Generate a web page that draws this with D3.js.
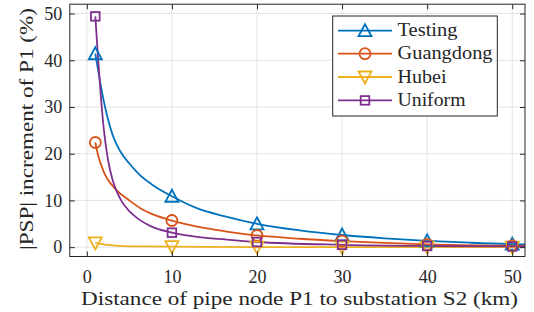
<!DOCTYPE html>
<html>
<head>
<meta charset="utf-8">
<script src="https://cdn.jsdelivr.net/npm/d3@7"></script>
<style>
  body { margin: 0; background: #fff; }
  svg text { font-family: "Liberation Serif", "DejaVu Serif", serif !important; }
</style>
</head>
<body>
<div id="chart"></div>
<script>
// Marker positions (km) and values
var markerX = [1, 10, 20, 30, 40, 50];
var testingMarks   = [41.4, 10.9, 5.0, 2.6, 1.35, 0.65];
var guangdongMarks = [22.4, 5.7, 2.5, 1.3, 0.6, 0.3];
var hubeiMarks     = [0.9, 0.1, 0.0, 0.0, 0.0, 0.0];
var uniformMarks   = [49.4, 3.1, 1.1, 0.5, 0.25, 0.15];

// Curve samples
var testingCurveX = [1, 1.5, 2, 2.53, 3, 3.5, 4, 5, 6.24, 8, 10, 13, 16.25, 20, 25, 30, 35, 40, 45, 50, 51.5];
var testingCurveY = [41.4, 36.0, 31.2, 27.1, 24.2, 22.0, 20.3, 17.9, 15.4, 13.0, 10.9, 8.3, 6.6, 5.0, 3.6, 2.6, 1.9, 1.35, 0.95, 0.65, 0.6];
var guangdongCurveX = [1, 1.28, 2, 3.43, 5, 6.24, 8, 10, 13, 16.25, 20, 25, 30, 35, 40, 50, 51.5];
var guangdongCurveY = [22.4, 20.0, 16.1, 12.3, 10.0, 8.4, 6.85, 5.7, 4.4, 3.4, 2.5, 1.8, 1.3, 0.9, 0.6, 0.3, 0.27];
var hubeiCurveX = [1, 1.55, 3, 6.2, 10, 20, 30, 40, 50, 51.5];
var hubeiCurveY = [0.9, 0.7, 0.4, 0.15, 0.1, 0.0, 0.0, 0.0, 0.0, 0.0];
var uniformCurveX = [1, 1.3, 1.6, 1.9, 2.2, 2.5, 3, 3.43, 4.1, 5, 6, 7.5, 10, 13, 16.25, 20, 30, 40, 50, 51.5];
var uniformCurveY = [49.4, 41.0, 33.5, 27.0, 22.2, 18.6, 14.6, 12.3, 9.8, 7.7, 6.1, 4.5, 3.1, 2.2, 1.65, 1.1, 0.5, 0.25, 0.15, 0.14];

var seriesNames = ["Testing", "Guangdong", "Hubei", "Uniform"];
var xTicks = [0, 10, 20, 30, 40, 50];
var yTicks = [0, 10, 20, 30, 40, 50];

var colors = ["#0072BD", "#D95319", "#EDB120", "#7E2F8E"];
var symbols = ["triUp", "circle", "triDown", "square"];
var legendTextW = [60, 95, 49, 68];

var series = [
  { name: seriesNames[0], cx: testingCurveX, cy: testingCurveY, m: testingMarks },
  { name: seriesNames[1], cx: guangdongCurveX, cy: guangdongCurveY, m: guangdongMarks },
  { name: seriesNames[2], cx: hubeiCurveX, cy: hubeiCurveY, m: hubeiMarks },
  { name: seriesNames[3], cx: uniformCurveX, cy: uniformCurveY, m: uniformMarks }
];

var W = 534, H = 312;
var svg = d3.select("#chart").append("svg")
  .attr("width", W).attr("height", H);

var x = d3.scaleLinear().domain([-2, 51.5]).range([69.8, 525]);
var y = d3.scaleLinear().domain([-2, 52]).range([256.5, 4.2]);

var pLeft = x.range()[0], pRight = x.range()[1], pTop = y.range()[1], pBottom = y.range()[0];

// grid
svg.append("g").selectAll("line").data(xTicks).enter().append("line")
  .attr("x1", function(d) { return x(d); }).attr("x2", function(d) { return x(d); })
  .attr("y1", pTop).attr("y2", pBottom)
  .attr("stroke", "#e3e3e3").attr("stroke-width", 1);
svg.append("g").selectAll("line").data(yTicks).enter().append("line")
  .attr("y1", function(d) { return y(d); }).attr("y2", function(d) { return y(d); })
  .attr("x1", pLeft).attr("x2", pRight)
  .attr("stroke", "#e3e3e3").attr("stroke-width", 1);

// lines
svg.append("clipPath").attr("id", "plotclip").append("rect")
  .attr("x", pLeft).attr("y", pTop).attr("width", pRight - pLeft).attr("height", pBottom - pTop);

var line = d3.line()
  .x(function(d) { return x(d[0]); })
  .y(function(d) { return y(d[1]); })
  .curve(d3.curveMonotoneX);

function marker(g, type, color) {
  if (type === "circle") {
    g.append("circle").attr("r", 5.5);
  } else if (type === "square") {
    g.append("rect").attr("x", -4.3).attr("y", -4.3).attr("width", 8.6).attr("height", 8.6);
  } else if (type === "triUp") {
    g.append("path").attr("d", "M0,-6.5L6.5,5.5L-6.5,5.5Z");
  } else {
    g.append("path").attr("d", "M0,6.5L6.5,-5.5L-6.5,-5.5Z");
  }
  g.selectAll("*").attr("fill", "none").attr("stroke", color).attr("stroke-width", 1.8);
}

series.forEach(function(s, i) {
  var pts = s.cx.map(function(v, k) { return [v, s.cy[k]]; });
  svg.append("path")
    .datum(pts)
    .attr("clip-path", "url(#plotclip)")
    .attr("d", line)
    .attr("fill", "none")
    .attr("stroke", colors[i])
    .attr("stroke-width", 1.8);
});

series.forEach(function(s, i) {
  markerX.forEach(function(mx, k) {
    var g = svg.append("g").attr("transform", "translate(" + x(mx) + "," + y(s.m[k]) + ")");
    marker(g, symbols[i], colors[i]);
  });
});

// axes (ticks inward, box on)
var tickLen = 5;
svg.append("g").attr("transform", "translate(0," + pBottom + ")")
  .call(d3.axisBottom(x).tickValues(xTicks).tickSizeInner(-tickLen).tickSizeOuter(0).tickPadding(14))
  .call(function(g) {
    g.select(".domain").remove();
    g.attr("font-size", 18);
    g.selectAll("text").attr("fill", "#262626");
  });
svg.append("g").attr("transform", "translate(0," + pTop + ")")
  .call(d3.axisTop(x).tickValues(xTicks).tickSizeInner(-tickLen).tickSizeOuter(0).tickFormat(""))
  .call(function(g) { g.select(".domain").remove(); });
svg.append("g").attr("transform", "translate(" + pLeft + ",0)")
  .call(d3.axisLeft(y).tickValues(yTicks).tickSizeInner(-tickLen).tickSizeOuter(0).tickPadding(7.5))
  .call(function(g) {
    g.select(".domain").remove();
    g.attr("font-size", 18);
    g.selectAll("text").attr("fill", "#262626");
  });
svg.append("g").attr("transform", "translate(" + pRight + ",0)")
  .call(d3.axisRight(y).tickValues(yTicks).tickSizeInner(-tickLen).tickSizeOuter(0).tickFormat(""))
  .call(function(g) { g.select(".domain").remove(); });
svg.selectAll(".tick line").attr("stroke", "#262626");

svg.append("rect")
  .attr("x", pLeft).attr("y", pTop)
  .attr("width", pRight - pLeft).attr("height", pBottom - pTop)
  .attr("fill", "none").attr("stroke", "#262626").attr("stroke-width", 1);

// axis labels
svg.append("text")
  .attr("x", (81 + 518) / 2).attr("y", 305)
  .attr("text-anchor", "middle")
  .attr("font-size", 19).attr("fill", "#262626")
  .attr("textLength", 437).attr("lengthAdjust", "spacingAndGlyphs")
  .text("Distance of pipe node P1 to substation S2 (km)");

svg.append("text")
  .attr("transform", "translate(33,129) rotate(-90)")
  .attr("text-anchor", "middle")
  .attr("font-size", 19).attr("fill", "#262626")
  .attr("textLength", 242).attr("lengthAdjust", "spacingAndGlyphs")
  .text("|PSP| increment of P1 (%)");

// legend
var lg = svg.append("g");
lg.append("rect")
  .attr("x", 332.7).attr("y", 16).attr("width", 164.6).attr("height", 100)
  .attr("fill", "#fff").attr("stroke", "#262626").attr("stroke-width", 1);
var rowY = [30.7, 53.7, 77, 100.4];
series.forEach(function(s, i) {
  var row = lg.append("g").attr("transform", "translate(0," + rowY[i] + ")");
  row.append("line").attr("x1", 338).attr("x2", 392).attr("y1", 0).attr("y2", 0)
    .attr("stroke", colors[i]).attr("stroke-width", 1.8);
  marker(row.append("g").attr("transform", "translate(365,0)"), symbols[i], colors[i]);
  row.append("text").attr("x", 397.5).attr("y", 0).attr("dy", "0.3em")
    .attr("font-size", 19).attr("fill", "#262626")
    .attr("textLength", legendTextW[i]).attr("lengthAdjust", "spacingAndGlyphs")
    .text(s.name);
});
</script>
</body>
</html>
